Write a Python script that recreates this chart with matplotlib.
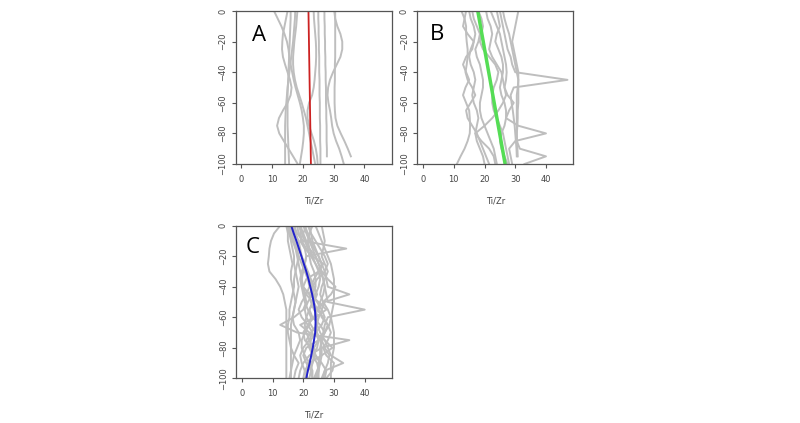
import numpy as np
import matplotlib
matplotlib.use("Agg")
import matplotlib.pyplot as plt

# depth grid shared by every profile (every 5 units, 0 at the top)
depth = [0, -5, -10, -15, -20, -25, -30, -35, -40, -45, -50,
         -55, -60, -65, -70, -75, -80, -85, -90, -95, -100]
nan = np.nan

# ---- panel A: individual profiles (Ti/Zr at each depth) ----
a_curves = [
    [15.0, 14.5, 14.0, 13.5, 13.3, 13.2, 13.5, 14.2, 15.0, 15.8, 16.3, 16.0, 15.0, 13.5, 12.2, 11.6, 12.3, 13.8, 15.3, 16.8, 18.3],
    [10.6, 11.8, 13.0, 14.0, 14.8, 15.3, 15.6, 16.0, 16.5, 17.0, 17.6, 18.3, 19.0, 19.6, 20.0, 20.3, 20.3, 20.1, 19.8, 19.4, 19.0],
    [16.0, 16.0, 15.9, 15.8, 15.7, 15.6, 15.5, 15.4, 15.3, 15.2, 15.1, 15.0, 15.0, 15.0, 15.0, 15.0, 15.1, 15.2, 15.3, 15.4, 15.5],
    [17.5, 17.4, 17.2, 17.0, 16.8, 16.5, 16.2, 15.9, 15.6, 15.3, 15.0, 14.8, 14.6, 14.4, 14.3, 14.2, 14.2, 14.2, 14.2, 14.2, 14.2],
    [18.2, 18.0, 17.8, 17.5, 17.2, 17.0, 16.8, 16.8, 17.0, 17.4, 18.0, 18.8, 19.6, 20.3, 21.0, 21.5, 22.0, 22.5, 23.0, 23.5, 24.0],
    [23.5, 23.6, 23.8, 24.0, 24.2, 24.3, 24.3, 24.2, 24.0, 23.8, 23.5, 23.0, 22.0, 21.5, 21.5, 22.0, 22.8, 23.6, 24.2, 24.6, 24.8],
    [25.0, 25.0, 25.1, 25.1, 25.2, 25.2, 25.3, 25.3, 25.3, 25.4, 25.4, 25.4, 25.5, 25.5, 25.5, 25.6, 25.6, 25.6, 25.7, 25.7, 25.7],
    [27.0, 27.0, 27.1, 27.1, 27.2, 27.2, 27.3, 27.3, 27.4, 27.4, 27.5, 27.5, 27.5, 27.6, 27.6, 27.7, 27.7, 27.7, 27.8, 27.8, nan],
    [30.2, 30.5, 31.2, 32.2, 32.8, 32.8, 32.2, 31.0, 29.8, 28.8, 28.2, 28.0, 28.3, 28.8, 29.2, 29.5, 30.0, 30.8, 31.8, 32.6, 33.3],
    [30.5, 30.5, 30.5, 30.5, 30.5, 30.5, 30.5, 30.4, 30.4, 30.4, 30.3, 30.3, 30.3, 30.4, 30.6, 31.2, 32.3, 33.5, 34.6, 35.6, nan],
]
a_mean = [21.8, 22.6]          # straight fit, top -> bottom

# ---- panel B ----
b_curves = [
    [25.0, 25.5, 26.0, 26.5, 27.0, 27.5, 28.5, 29.0, 30.0, 47.0, 29.5, 28.5, 28.8, 29.2, 29.5, 29.8, 30.0, 30.2, 30.4, 30.5, nan],
    [22.0, 23.0, 24.0, 25.0, 25.5, 26.0, 26.5, 27.0, 27.2, 27.0, 26.5, 27.5, 29.5, 28.0, 27.0, 31.0, 40.0, 30.0, 28.0, 28.5, 29.0],
    [26.0, 26.5, 27.2, 28.0, 28.5, 29.0, 29.5, 30.0, 30.5, 31.0, 31.0, 31.0, 31.0, 30.8, 30.8, 30.7, 30.5, 30.5, 31.5, 40.0, 33.0],
    [14.0, 13.5, 13.0, 14.5, 16.5, 16.0, 14.0, 13.0, 14.0, 15.0, 13.8, 13.0, 14.0, 15.0, 15.2, 15.3, 15.2, 14.5, 13.5, 12.2, 11.0],
    [12.5, 13.5, 14.0, 14.0, 14.2, 14.5, 14.5, 14.2, 13.8, 14.5, 16.0, 17.0, 15.5, 14.0, 14.5, 16.0, 17.5, 18.5, 19.5, 20.5, 21.5],
    [16.0, 16.5, 17.5, 18.5, 18.0, 17.0, 17.5, 18.5, 19.0, 19.5, 19.5, 19.0, 18.5, 18.5, 19.0, 20.0, 21.0, 22.0, 23.0, 23.5, 24.0],
    [18.0, 19.0, 19.5, 19.0, 18.5, 19.5, 21.5, 23.5, 24.5, 24.0, 23.0, 22.5, 22.5, 23.0, 24.0, 25.0, 26.0, 26.5, 27.0, 27.5, 28.0],
    [20.5, 21.0, 22.0, 22.5, 22.0, 21.5, 22.5, 24.0, 25.5, 26.0, 26.5, 27.0, 26.0, 24.5, 22.5, 20.0, 17.0, 19.0, 21.5, 23.0, 23.5],
    [31.0, 30.5, 30.0, 29.5, 29.0, 29.5, 30.0, 30.5, 31.0, 31.0, 30.8, 30.5, 30.5, 30.5, 30.5, 30.5, 30.5, 30.6, 30.7, 30.8, nan],
    [24.0, 24.5, 25.0, 24.0, 23.5, 24.5, 25.5, 26.0, 26.0, 25.5, 25.0, 25.5, 26.5, 27.0, 27.0, 26.5, 25.5, 25.0, 25.5, 26.5, 27.5],
    [15.0, 15.5, 16.5, 17.0, 16.5, 15.5, 15.0, 15.5, 16.5, 17.0, 16.5, 16.0, 16.5, 17.5, 18.0, 17.5, 17.0, 17.5, 18.5, 19.5, 20.0],
]
b_mean = [17.8, 26.7]

# ---- panel C ----
c_curves = [
    [12.5, 10.5, 9.5, 9.0, 8.8, 8.5, 9.0, 11.0, 12.5, 13.5, 14.0, 14.5, 14.5, 14.5, 14.5, 14.5, 14.5, 14.5, 14.5, 14.5, 14.5],
    [20.0, 21.0, 22.0, 23.0, 24.0, 25.0, 26.0, 26.5, 27.0, 27.5, 28.0, 40.0, 28.0, 27.0, 26.5, 26.0, 25.5, 25.5, 25.0, 25.0, 25.0],
    [17.0, 18.0, 20.0, 34.0, 21.0, 20.5, 21.0, 22.0, 23.0, 23.5, 23.0, 22.0, 21.0, 20.5, 21.0, 22.0, 23.0, 23.5, 23.0, 22.5, 22.0],
    [22.0, 22.5, 23.0, 24.0, 25.0, 26.0, 27.0, 27.5, 28.0, 35.0, 27.0, 26.0, 25.0, 24.0, 24.5, 25.5, 26.0, 26.0, 25.5, 25.0, 24.5],
    [16.0, 16.5, 17.0, 17.5, 18.0, 18.5, 19.0, 19.5, 20.0, 20.5, 21.0, 20.0, 17.0, 12.5, 18.0, 35.0, 26.0, 22.0, 20.0, 19.0, 18.5],
    [19.0, 20.0, 21.0, 22.0, 23.0, 24.0, 25.5, 26.5, 27.0, 26.5, 25.5, 24.5, 24.0, 24.5, 25.5, 27.0, 28.0, 29.0, 33.0, 27.0, 26.0],
    [24.0, 25.0, 26.0, 27.0, 28.0, 29.0, 29.5, 30.0, 30.0, 30.0, 30.0, 29.5, 29.0, 29.5, 30.0, 30.0, 30.0, 29.5, 29.0, 29.0, 29.0],
    [15.0, 15.5, 16.0, 16.5, 17.0, 17.0, 17.5, 18.0, 18.5, 18.0, 17.5, 17.0, 16.5, 16.0, 16.0, 16.0, 16.0, 16.0, 16.0, 16.0, 16.0],
    [21.0, 20.0, 19.0, 20.5, 23.0, 26.5, 25.0, 21.0, 20.0, 22.0, 25.0, 27.5, 24.0, 19.0, 22.0, 27.0, 29.5, 26.0, 22.0, 20.5, 20.0],
    [18.5, 19.5, 20.5, 21.5, 22.0, 22.5, 23.5, 24.0, 24.0, 23.0, 21.5, 20.5, 21.0, 22.5, 24.0, 25.0, 24.5, 23.0, 21.5, 21.0, 21.0],
    [23.0, 22.0, 21.5, 22.0, 24.0, 25.0, 26.0, 28.0, 30.5, 29.0, 26.5, 25.0, 26.0, 28.0, 29.0, 28.0, 26.5, 27.5, 30.0, 29.5, 27.5],
    [14.5, 15.0, 15.0, 15.5, 16.0, 16.5, 16.0, 16.0, 16.5, 17.0, 17.5, 17.0, 16.5, 17.0, 18.5, 19.0, 18.0, 17.0, 16.5, 16.0, 15.5],
    [20.5, 21.5, 22.5, 23.5, 25.0, 26.0, 25.0, 23.5, 22.5, 23.0, 24.5, 26.0, 27.0, 26.0, 24.0, 22.5, 22.0, 23.0, 24.5, 25.0, 24.0],
    [17.5, 17.0, 17.5, 18.5, 19.5, 20.5, 21.5, 22.5, 23.5, 24.5, 23.5, 22.0, 23.0, 25.5, 27.0, 25.0, 21.0, 20.0, 21.0, 22.5, 23.0],
    [26.0, 26.5, 27.0, 26.5, 26.0, 27.0, 28.0, 27.0, 26.0, 25.5, 26.5, 28.0, 29.0, 28.5, 27.0, 26.0, 27.0, 28.5, 28.0, 27.0, 26.5],
    [16.5, 17.5, 18.5, 19.0, 19.5, 20.0, 20.0, 19.5, 19.5, 20.0, 20.5, 21.5, 22.5, 22.0, 20.5, 19.5, 19.5, 20.5, 22.0, 23.0, 23.0],
    [15.5, 16.0, 17.0, 18.0, 18.5, 18.0, 17.5, 17.0, 17.0, 16.5, 16.0, 15.5, 15.5, 15.0, 15.0, 15.5, 16.0, 17.0, 18.5, 17.5, 17.0],
    [18.0, 18.5, 19.5, 21.0, 22.5, 24.0, 25.0, 25.5, 25.0, 24.0, 23.5, 24.5, 26.5, 28.0, 27.0, 25.0, 23.5, 24.0, 26.0, 27.5, 27.0],
    [21.5, 22.5, 24.0, 25.5, 27.0, 28.0, 27.0, 24.5, 23.0, 22.0, 22.5, 23.5, 25.0, 24.5, 22.5, 21.0, 22.0, 24.0, 25.5, 24.5, 23.5],
    [15.0, 15.5, 16.5, 17.5, 18.5, 19.5, 20.5, 21.5, 22.0, 21.0, 19.5, 18.5, 19.5, 21.5, 23.0, 22.0, 20.0, 19.0, 19.5, 20.5, 21.5],
    [19.5, 19.0, 19.5, 20.5, 21.0, 20.5, 19.5, 19.0, 19.5, 21.0, 23.0, 24.5, 23.5, 21.5, 20.0, 20.5, 22.5, 24.0, 23.0, 21.5, 20.5],
]
# smooth mean profile
c_mean = [16.1, 16.9, 17.8, 18.6, 19.4, 20.2, 21.0, 21.7, 22.3, 22.9, 23.4, 23.8, 24.0, 24.0, 23.9, 23.5, 23.1, 22.6, 22.1, 21.5, 21.0]

xticks = [0, 10, 20, 30, 40]
yticks = [0, -20, -40, -60, -80, -100]

fig = plt.figure(figsize=(8, 4.23), dpi=100)
plt.rcParams['font.family'] = ['DejaVu Sans']


def setup(ax, letter, lx, ly):
    ax.set_xlim(-1.88, 48.88)
    ax.set_ylim(-100, 0)
    ax.set_xticks(xticks)
    ax.set_yticks(yticks)
    ax.tick_params(axis='both', length=3, width=0.8, colors='#555555', labelsize=6, labelcolor='#444444')
    ax.tick_params(axis='x', pad=5)
    ax.tick_params(axis='y', pad=3)
    for lab in ax.get_yticklabels():
        lab.set_rotation(90)
        lab.set_va('center')
    for s in ax.spines.values():
        s.set_color('#555555')
        s.set_linewidth(0.9)
    ax.set_xlabel('Ti/Zr', fontsize=6, color='#444444', labelpad=9)
    ax.text(lx, ly, letter, transform=ax.transAxes, fontsize=16,
            family=['Open Sans', 'DejaVu Sans'], ha='center', va='center')


grey = '#bebebe'

axA = fig.add_axes([0.2946, 0.6123, 0.195, 0.3617])
for c in a_curves:
    axA.plot(c, depth, color=grey, lw=1.4)
axA.plot(a_mean, [0, -100], color='#cc2222', lw=1.3)
setup(axA, 'A', 0.15, 0.843)

axB = fig.add_axes([0.5216, 0.6123, 0.195, 0.3617])
for c in b_curves:
    axB.plot(c, depth, color=grey, lw=1.4)
axB.plot(b_mean, [0, -100], color='#55dd55', lw=2.5)
setup(axB, 'B', 0.124, 0.848)

axC = fig.add_axes([0.295, 0.1057, 0.195, 0.3607])
for c in c_curves:
    axC.plot(c, depth, color=grey, lw=1.4)
axC.plot(c_mean, depth, color='#2222cc', lw=1.4)
setup(axC, 'C', 0.107, 0.858)

fig.savefig('out.png', dpi=100, facecolor='white')
